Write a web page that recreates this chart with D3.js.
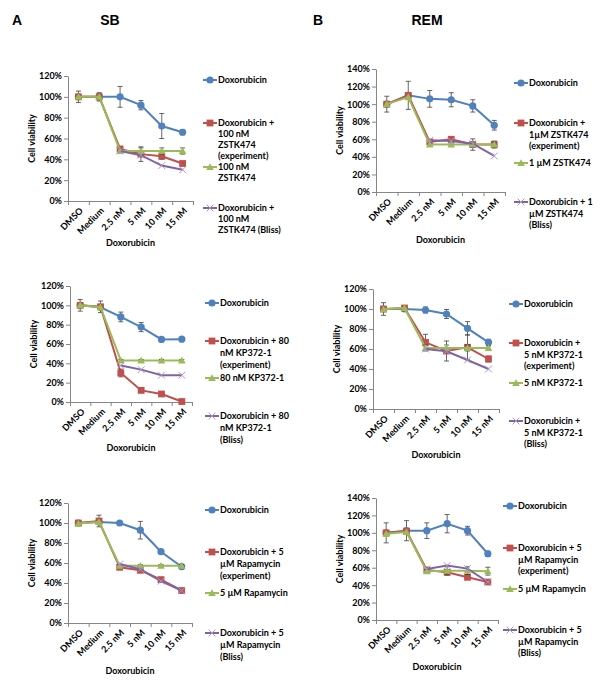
<!DOCTYPE html>
<html><head><meta charset="utf-8">
<script src="https://cdn.jsdelivr.net/npm/d3@7"></script>
<style>body{margin:0;background:#fff}svg{display:block}</style>
</head><body><svg id="c" width="600" height="682"></svg>
<script>
// ---------- shared ----------
const categories = ["DMSO", "Medium", "2.5 nM", "5 nM", "10 nM", "15 nM"];
const yTicks120 = [0, 20, 40, 60, 80, 100, 120];
const yTicks140 = [0, 20, 40, 60, 80, 100, 120, 140];
const xAxisTitle = "Doxorubicin";
const yAxisTitle = "Cell viability";
const panelLetters = ["A", "B"];
const cellLines = ["SB", "REM"];

// ---------- A1: SB + 100 nM ZSTK474 ----------
const sbZstkDox = [100, 100, 100, 92, 72, 66];
const sbZstkExp = [100, 100, 50, 45, 43, 36];
const sbZstkDrug = [100, 100, 48, 48, 48, 48];
const sbZstkBliss = [null, null, 48, 44, 34, 30];
const sbZstkDoxErr = [null, 3, 10, 4.5, 12, 2.5];
const sbZstkExpErr = [5.5, 4, 2, 7, 3, 2];
const sbZstkDrugErr = [null, null, 2, 3, 3, 3];
const sbZstkLegend = [["Doxorubicin"], ["Doxorubicin +", "100 nM", "ZSTK474", "(experiment)"], ["100 nM", "ZSTK474"], ["Doxorubicin +", "100 nM", "ZSTK474 (Bliss)"]];

// ---------- B1: REM + 1 µM ZSTK474 ----------
const remZstkDox = [100, 110, 106, 105, 98, 76];
const remZstkExp = [100, 110, 57, 60, 54, 54];
const remZstkDrug = [100, 108, 54, 54, 54, 54];
const remZstkBliss = [null, null, 59, 58, 55, 41];
const remZstkDoxErr = [null, null, 9.5, 8, 7, 5.5];
const remZstkExpErr = [9, 16, 2, 3, 6.5, 4];
const remZstkDrugErr = [null, null, 2, 2, 3, 3];
const remZstkLegend = [["Doxorubicin"], ["Doxorubicin +", "1\u00b5M ZSTK474", "(experiment)"], ["1 \u00b5M ZSTK474"], ["Doxorubicin + 1", "\u00b5M ZSTK474", "(Bliss)"]];

// ---------- A2: SB + 80 nM KP372-1 ----------
const sbKpDox = [100, 98, 88, 77.5, 64.7, 65];
const sbKpExp = [100, 98.5, 30, 12, 8.3, 0.5];
const sbKpDrug = [100, 98, 43, 43, 43, 43];
const sbKpBliss = [null, null, 37.7, 33.5, 27.7, 27.7];
const sbKpDoxErr = [null, null, 5, 4.7, 1, 1];
const sbKpExpErr = [6, 6, 4, 2, 1, 1];
const sbKpDrugErr = [null, null, 1, 1, 1, 1];
const sbKpLegend = [["Doxorubicin"], ["Doxorubicin + 80", "nM KP372-1", "(experiment)"], ["80 nM KP372-1"], ["Doxorubicin + 80", "nM KP372-1", "(Bliss)"]];

// ---------- B2: REM + 5 nM KP372-1 ----------
const remKpDox = [100, 100, 99, 95, 80.7, 66.7];
const remKpExp = [100, 101, 66.7, 58, 61.7, 50];
const remKpDrug = [99.7, 101, 61, 61, 61, 61];
const remKpBliss = [null, null, 60, 57.7, 49, 40];
const remKpDoxErr = [null, null, 3, 4.5, 6.7, 3];
const remKpExpErr = [6.3, 2, 8, 10, 12.5, 3];
const remKpDrugErr = [null, null, 3, 3, 3, 2];
const remKpLegend = [["Doxorubicin"], ["Doxorubicin +", "5 nM KP372-1", "(experiment)"], ["5 nM KP372-1"], ["Doxorubicin +", "5 nM KP372-1", "(Bliss)"]];

// ---------- A3: SB + 5 µM Rapamycin ----------
const sbRapaDox = [100, 101, 100, 92.8, 71.3, 56.3];
const sbRapaExp = [100, 102, 55.7, 52.7, 43.4, 32.5];
const sbRapaDrug = [99.4, 101, 57.3, 57.3, 57.3, 57.3];
const sbRapaBliss = [null, null, 59, 53.7, 41.8, 32.5];
const sbRapaDoxErr = [null, null, 1, 8.8, 1.5, 1.5];
const sbRapaExpErr = [2, 5.8, 2, 1.5, 1.5, 1.5];
const sbRapaDrugErr = [null, null, 1, 1, 1, 1];
const sbRapaLegend = [["Doxorubicin"], ["Doxorubicin + 5", "\u00b5M Rapamycin", "(experiment)"], ["5 \u00b5M Rapamycin"], ["Doxorubicin + 5", "\u00b5M Rapamycin", "(Bliss)"]];

// ---------- B3: REM + 5 µM Rapamycin ----------
const remRapaDox = [100, 102.5, 102.5, 110.5, 102.5, 76];
const remRapaExp = [100, 102, 57.4, 54.7, 49, 43.6];
const remRapaDrug = [99, 101, 56, 56.6, 56.6, 56];
const remRapaBliss = [null, null, 58.5, 62.4, 59, 43.6];
const remRapaDoxErr = [null, 11.5, 9, 10.5, 5, 3];
const remRapaExpErr = [11.5, null, 2, 2, 2, 2];
const remRapaDrugErr = [null, null, 2, 5, 4.5, 4.5];
const remRapaLegend = [["Doxorubicin"], ["Doxorubicin + 5", "\u00b5M Rapamycin", "(experiment)"], ["5 \u00b5M Rapamycin"], ["Doxorubicin + 5", "\u00b5M Rapamycin", "(Bliss)"]];

const colors = ["#4F81BD", "#C0504D", "#9BBB59", "#8064A2"];

// layout per panel (pixels)
const panels = [
  {left: 68, right: 193, top: 76, bottom: 201, ticks: yTicks120, series: [sbZstkDox, sbZstkExp, sbZstkDrug, sbZstkBliss], errs: [sbZstkDoxErr, sbZstkExpErr, sbZstkDrugErr, null], legend: sbZstkLegend, lx: 203, lys: [80, 123, 167, 208], lh: 11, xty: 243},
  {left: 376, right: 505, top: 69, bottom: 192, ticks: yTicks140, series: [remZstkDox, remZstkExp, remZstkDrug, remZstkBliss], errs: [remZstkDoxErr, remZstkExpErr, remZstkDrugErr, null], legend: remZstkLegend, lx: 514, lys: [83, 123, 163, 202], lh: 11.6, xty: 240},
  {left: 70, right: 192, top: 286, bottom: 402, ticks: yTicks120, series: [sbKpDox, sbKpExp, sbKpDrug, sbKpBliss], errs: [sbKpDoxErr, sbKpExpErr, sbKpDrugErr, null], legend: sbKpLegend, lx: 205, lys: [303, 341, 378, 416], lh: 11.8, xty: 448},
  {left: 373, right: 499, top: 289, bottom: 409, ticks: yTicks120, series: [remKpDox, remKpExp, remKpDrug, remKpBliss], errs: [remKpDoxErr, remKpExpErr, remKpDrugErr, null], legend: remKpLegend, lx: 509, lys: [304, 343, 383, 421], lh: 11.6, xty: 455},
  {left: 68, right: 192, top: 503, bottom: 623, ticks: yTicks120, series: [sbRapaDox, sbRapaExp, sbRapaDrug, sbRapaBliss], errs: [sbRapaDoxErr, sbRapaExpErr, sbRapaDrugErr, null], legend: sbRapaLegend, lx: 205, lys: [510, 552, 593, 633], lh: 11.8, xty: 671},
  {left: 376, right: 498, top: 498, bottom: 620, ticks: yTicks140, series: [remRapaDox, remRapaExp, remRapaDrug, remRapaBliss], errs: [remRapaDoxErr, remRapaExpErr, remRapaDrugErr, null], legend: remRapaLegend, lx: 503, lys: [506, 548, 589, 630], lh: 11.6, xty: 667}
];

const FONT = "Lato, 'Open Sans', sans-serif";
const svg = d3.select("#c");

// panel letters and titles
const headX = [[12, 110], [313, 427]];
panelLetters.forEach((L, i) => {
  svg.append("text").attr("x", headX[i][0]).attr("y", 25).text(L)
    .attr("font-family", "'Liberation Sans', Arial, sans-serif").attr("font-weight", "bold").attr("font-size", 14);
  svg.append("text").attr("x", headX[i][1]).attr("y", 25).attr("text-anchor", "middle").text(cellLines[i])
    .attr("font-family", "'Liberation Sans', Arial, sans-serif").attr("font-weight", "bold").attr("font-size", 14);
});

function drawMarker(g, k, cx, cy, color) {
  if (k === 0) {
    g.append("circle").attr("cx", cx).attr("cy", cy).attr("r", 3.6).attr("fill", color);
  } else if (k === 1) {
    g.append("rect").attr("x", cx - 3.4).attr("y", cy - 3.4).attr("width", 6.8).attr("height", 6.8).attr("fill", color);
  } else if (k === 2) {
    const s = 3.8;
    g.append("path").attr("d", `M${cx},${cy - s}L${cx + s},${cy + s * 0.8}L${cx - s},${cy + s * 0.8}Z`).attr("fill", color);
  } else {
    const s = 3.4;
    g.append("path").attr("d", `M${cx - s},${cy - s}L${cx + s},${cy + s}M${cx - s},${cy + s}L${cx + s},${cy - s}`)
      .attr("stroke", "#a898c4").attr("stroke-width", 1).attr("fill", "none");
  }
}

panels.forEach(p => {
  const g = svg.append("g");
  const yMax = p.ticks[p.ticks.length - 1];
  const y = d3.scaleLinear().domain([0, yMax]).range([p.bottom, p.top]);
  const xb = d3.scaleBand().domain(categories).range([p.left, p.right]).padding(0);
  const xl = d3.scaleLinear().domain([0, categories.length]).range([p.left, p.right]);
  const cx = c => xb(c) + xb.bandwidth() / 2;

  // y axis
  const ya = g.append("g").attr("transform", `translate(${p.left},0)`)
    .call(d3.axisLeft(y).tickValues(p.ticks).tickFormat(d => d + "%").tickSize(4).tickSizeOuter(0));
  ya.select(".domain").attr("stroke", "#868686");
  ya.selectAll(".tick line").attr("stroke", "#868686");
  ya.selectAll(".tick text").attr("font-family", FONT).attr("font-weight", "bold").attr("font-size", 9).attr("fill", "#000").attr("x", -6);

  // x axis (ticks between categories)
  const xa = g.append("g").attr("transform", `translate(0,${p.bottom})`)
    .call(d3.axisBottom(xl).tickValues(d3.range(categories.length + 1)).tickFormat("").tickSize(4).tickSizeOuter(0));
  xa.select(".domain").attr("stroke", "#868686");
  xa.selectAll(".tick line").attr("stroke", "#868686");
  categories.forEach(c => {
    g.append("text").attr("transform", `translate(${cx(c) + 3},${p.bottom + 8}) rotate(-45)`)
      .attr("text-anchor", "end").attr("dy", "0.35em").text(c)
      .attr("font-family", FONT).attr("font-weight", "bold").attr("font-size", 9);
  });

  // axis titles
  g.append("text").attr("transform", `translate(${p.left - 36},${(p.top + p.bottom) / 2}) rotate(-90)`)
    .attr("text-anchor", "middle").attr("dy", "0.35em").text(yAxisTitle)
    .attr("font-family", FONT).attr("font-weight", "bold").attr("font-size", 9);
  g.append("text").attr("x", (p.left + p.right) / 2).attr("y", p.xty).attr("dy", "0.35em")
    .attr("text-anchor", "middle").text(xAxisTitle)
    .attr("font-family", FONT).attr("font-weight", "bold").attr("font-size", 9);

  // series
  p.series.forEach((vals, k) => {
    const pts = vals.map((v, i) => ({c: categories[i], v, e: p.errs[k] ? p.errs[k][i] : null})).filter(d => d.v != null);
    const line = d3.line().x(d => cx(d.c)).y(d => y(d.v));
    g.append("path").attr("d", line(pts)).attr("fill", "none").attr("stroke", colors[k]).attr("stroke-width", 2);
    pts.forEach(d => {
      if (d.e) {
        const x0 = cx(d.c), y1 = y(d.v + d.e), y2 = y(d.v - d.e);
        g.append("path").attr("d", `M${x0},${y1}V${y2}M${x0 - 2.5},${y1}H${x0 + 2.5}M${x0 - 2.5},${y2}H${x0 + 2.5}`)
          .attr("stroke", "#404040").attr("stroke-width", 0.8).attr("fill", "none");
      }
    });
    pts.forEach(d => drawMarker(g, k, cx(d.c), y(d.v), colors[k]));
  });

  // legend
  p.legend.forEach((lines, k) => {
    const ly = p.lys[k];
    g.append("line").attr("x1", p.lx).attr("x2", p.lx + 14).attr("y1", ly).attr("y2", ly)
      .attr("stroke", colors[k]).attr("stroke-width", 2);
    drawMarker(g, k, p.lx + 7, ly, colors[k]);
    lines.forEach((t, j) => {
      g.append("text").attr("x", p.lx + 15).attr("y", ly + j * p.lh).attr("dy", "0.35em").text(t)
        .attr("font-family", FONT).attr("font-weight", "bold").attr("font-size", 9);
    });
  });
});
</script></body></html>
